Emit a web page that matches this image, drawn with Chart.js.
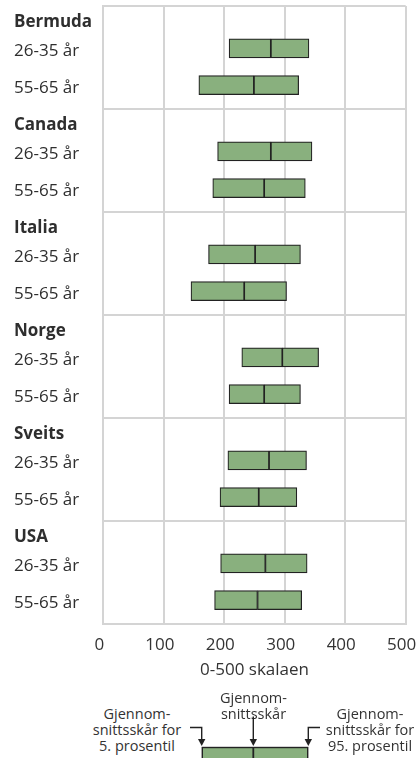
<!DOCTYPE html>
<html>
<head>
<meta charset="utf-8">
<script src="https://cdn.jsdelivr.net/npm/chart.js@4/dist/chart.umd.min.js"></script>
<style>
  html, body { margin: 0; padding: 0; background: #ffffff; }
  body { width: 420px; height: 758px; position: relative; overflow: hidden; font-family: "Open Sans", sans-serif; }
  #wrap { position: absolute; left: 0; top: 0; width: 420px; height: 690px; }
  .key { position: absolute; width: 130px; text-align: center; font-size: 14.5px; line-height: 16px; color: #333333; white-space: nowrap; }
  #keysvg { position: absolute; left: 0; top: 0; }
</style>
</head>
<body>
<div id="wrap"><canvas id="c"></canvas></div>

<div class="key" style="left:72px; top:706px;">Gjennom-<br>snittsskår for<br>5. prosentil</div>
<div class="key" style="left:188.5px; top:689.5px;">Gjennom-<br>snittsskår</div>
<div class="key" style="left:305px; top:706px;">Gjennom-<br>snittsskår for<br>95. prosentil</div>
<svg id="keysvg" width="420" height="758" viewBox="0 0 420 758">
  <g stroke="#222222" stroke-width="1.4" fill="none">
    <path d="M190 727.5 H201.7 V740"/>
    <path d="M253.3 716.5 V740"/>
    <path d="M320 727.5 H308.3 V740"/>
  </g>
  <g fill="#222222">
    <path d="M198 739 L205.4 739 L201.7 746 Z"/>
    <path d="M249.6 739 L257 739 L253.3 746 Z"/>
    <path d="M304.6 739 L312 739 L308.3 746 Z"/>
  </g>
  <rect x="202.3" y="747.5" width="105.4" height="20" fill="#89b07e" stroke="#222222" stroke-width="1.4"/>
  <line x1="253.3" y1="747.5" x2="253.3" y2="760" stroke="#222222" stroke-width="1.8"/>
</svg>

<script>
// ---- Data ----
const countries = ['Bermuda', 'Canada', 'Italia', 'Norge', 'Sveits', 'USA'];
const ageGroups = ['26-35 år', '55-65 år'];
// 5th percentile, mean and 95th percentile (0-500 scale)
const low2635  = [208, 189, 174, 229, 206, 194];
const mean2635 = [277, 277, 251, 296, 274, 268];
const high2635 = [340, 345, 326, 356, 336, 337];
const low5565  = [158, 181, 145, 208, 193, 184];
const mean5565 = [249, 266, 233, 266, 257, 255];
const high5565 = [323, 334, 303, 326, 320, 328];
const xTicks = [0, 100, 200, 300, 400, 500];
const xTitle = '0-500 skalaen';

// ---- Layout of rows on the category axis ----
const SLOTS = 28;            // sub-rows per country block
const LABEL_SLOT = 3;        // row holding the country name
const AGE_SLOTS = [11, 21];  // rows holding the two age groups

const lows = [low2635, low5565];
const means = [mean2635, mean5565];
const highs = [high2635, high5565];

const nRows = countries.length * SLOTS;
const rowLabels = new Array(nRows).fill('');
const boldRows = new Set();
const lowerSeg = new Array(nRows).fill(null);
const upperSeg = new Array(nRows).fill(null);

countries.forEach((c, g) => {
  const base = g * SLOTS;
  rowLabels[base + LABEL_SLOT] = c;
  boldRows.add(base + LABEL_SLOT);
  ageGroups.forEach((a, k) => {
    const r = base + AGE_SLOTS[k];
    rowLabels[r] = a;
    lowerSeg[r] = [lows[k][g], means[k][g]];
    upperSeg[r] = [means[k][g], highs[k][g]];
  });
});

const GRID = '#d4d4d4';
const FILL = '#89b07e';
const EDGE = '#222222';
const TEXT = '#2e2e2e';

const barStyle = {
  backgroundColor: FILL,
  borderColor: EDGE,
  borderWidth: 1.2,
  borderSkipped: false,
  barThickness: 19,
  grouped: false
};

new Chart(document.getElementById('c'), {
  type: 'bar',
  data: {
    labels: rowLabels,
    datasets: [
      Object.assign({ label: '5. prosentil – gjennomsnitt', data: lowerSeg }, barStyle),
      Object.assign({ label: 'gjennomsnitt – 95. prosentil', data: upperSeg }, barStyle)
    ]
  },
  options: {
    indexAxis: 'y',
    responsive: true,
    maintainAspectRatio: false,
    animation: false,
    layout: { padding: { left: 14, right: 14.3, top: 6, bottom: 0 } },
    plugins: { legend: { display: false }, tooltip: { enabled: false } },
    scales: {
      x: {
        type: 'linear',
        position: 'bottom',
        min: xTicks[0],
        max: xTicks[xTicks.length - 1],
        afterBuildTicks: s => { s.ticks = xTicks.map(v => ({ value: v })); },
        afterFit: s => { s.height = 66; s.paddingLeft = 0; s.paddingRight = 0; },
        grid: { color: GRID, lineWidth: 2, drawTicks: false },
        border: { color: GRID, width: 2 },
        ticks: {
          font: { family: 'Open Sans', size: 17 },
          color: '#333333',
          padding: 11,
          labelOffset: -4,
          autoSkip: false,
          maxRotation: 0
        },
        title: {
          display: true,
          text: xTitle,
          font: { family: 'Open Sans', size: 17 },
          color: '#333333',
          padding: { top: 0, bottom: 10 }
        }
      },
      y: {
        type: 'category',
        position: 'left',
        offset: true,
        afterFit: s => { s.width = 89.3; s.paddingTop = 0; s.paddingBottom = 0; },
        grid: {
          offset: true,
          drawTicks: false,
          color: ctx => (ctx.index === undefined || ctx.index % SLOTS === 0) ? GRID : 'rgba(0,0,0,0)',
          lineWidth: ctx => (ctx.index === undefined || ctx.index % SLOTS === 0) ? 2 : 0
        },
        border: { color: GRID, width: 2 },
        ticks: {
          autoSkip: false,
          crossAlign: 'far',
          padding: 0,
          labelOffset: 3,
          color: TEXT,
          font: ctx => ({ family: 'Open Sans', size: 17, weight: boldRows.has(ctx.index) ? 'bold' : 'normal' })
        }
      }
    }
  }
});
</script>
</body>
</html>
